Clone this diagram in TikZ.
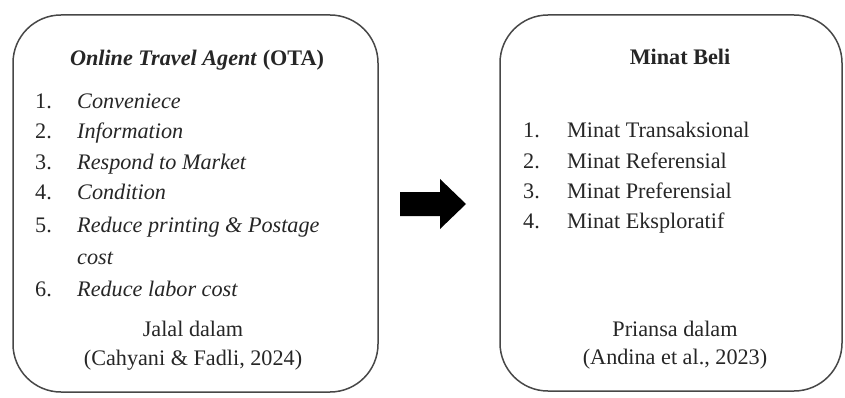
\documentclass[tikz,border=0pt]{standalone}
\usepackage{fontspec}
\setmainfont{Liberation Serif}
\begin{document}
\begin{tikzpicture}[x=1pt,y=-1pt,
  panel/.style={draw=black!72, line width=1.5pt, rounded corners=48pt, fill=white},
  txt/.style={inner sep=0pt, anchor=base west, text=black!85, font=\fontsize{22.2}{26}\selectfont},
  ctr/.style={inner sep=0pt, anchor=base, text=black!85, font=\fontsize{22.2}{26}\selectfont}]
\useasboundingbox (0,0) rectangle (845,398);
\fill[white] (0,0) rectangle (845,398);
% boxes
\draw[panel] (13,15) rectangle (378,392);
\draw[panel] (500,15) rectangle (842,391);
% arrow
\fill[black] (400,192) -- (440,192) -- (440,179) -- (466,204) -- (440,229) -- (440,216) -- (400,216) -- cycle;
% left box
\node[ctr] (lt) at (197,66) {\textbf{\textit{Online Travel Agent}} \textbf{(OTA)}};
\node[txt] (ln1) at (35,109) {1.};
\node[txt] (li1) at (77,109) {\textit{Conveniece}};
\node[txt] (ln2) at (35,139) {2.};
\node[txt] (li2) at (77,139) {\textit{Information}};
\node[txt] (ln3) at (35,169) {3.};
\node[txt] (li3) at (77,169) {\textit{Respond to Market}};
\node[txt] (ln4) at (35,200) {4.};
\node[txt] (li4) at (77,200) {\textit{Condition}};
\node[txt] (ln5) at (35,232) {5.};
\node[txt] (li5) at (77,232) {\textit{Reduce printing \& Postage}};
\node[txt] (li5b) at (77,264) {\textit{cost}};
\node[txt] (ln6) at (35,296) {6.};
\node[txt] (li6) at (77,296) {\textit{Reduce labor cost}};
\node[ctr] (ls1) at (193,336) {Jalal dalam};
\node[ctr] (ls2) at (193,365) {(Cahyani \& Fadli, 2024)};
% right box
\node[ctr] (rt) at (680,65) {\textbf{Minat Beli}};
\node[txt] (rn1) at (523,138) {1.};
\node[txt] (ri1) at (567,138) {Minat Transaksional};
\node[txt] (rn2) at (523,168) {2.};
\node[txt] (ri2) at (567,168) {Minat Referensial};
\node[txt] (rn3) at (523,198) {3.};
\node[txt] (ri3) at (567,198) {Minat Preferensial};
\node[txt] (rn4) at (523,228) {4.};
\node[txt] (ri4) at (567,228) {Minat Eksploratif};
\node[ctr] (rs1) at (675,336) {Priansa dalam};
\node[ctr] (rs2) at (675,364) {(Andina et al., 2023)};
\end{tikzpicture}
\end{document}
